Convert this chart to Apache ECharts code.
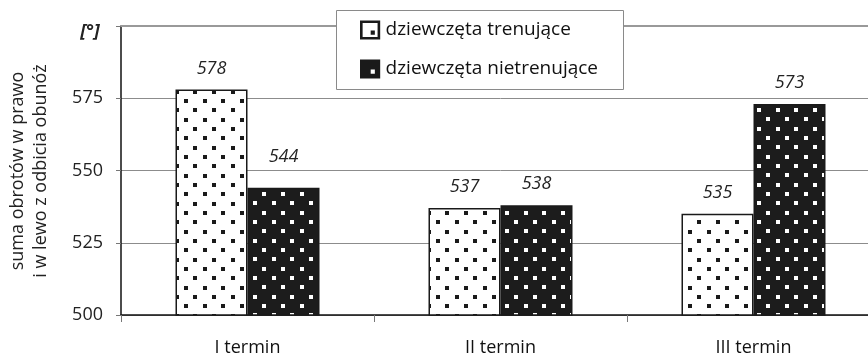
<!DOCTYPE html>
<html>
<head>
<meta charset="utf-8">
<style>
  html, body { margin: 0; padding: 0; background: #fff; overflow: hidden; }
  /* the plot area continues a little past the right edge of the window */
  #chart { width: 880px; height: 358px; }
</style>
<script src="https://cdn.jsdelivr.net/npm/echarts@6/dist/echarts.min.js"></script>
</head>
<body>
<div id="chart"></div>
<script>
// Data
const categories = ['I termin', 'II termin', 'III termin'];
const seriesNames = ['dziewczęta trenujące', 'dziewczęta nietrenujące'];
const trained = [578, 537, 535];
const untrained = [544, 538, 573];
const yTicks = { min: 500, max: 600, step: 25 };

const FONT = '"Open Sans", "Noto Sans", sans-serif';

// Staggered dot pattern tile (3 periods of ~18.67 px)
function dotPattern(bg, dot, x0, y0) {
  const size = 56, period = size / 3, half = period / 2, d = 4;
  const c = document.createElement('canvas');
  c.width = size; c.height = size;
  const g = c.getContext('2d');
  g.fillStyle = bg; g.fillRect(0, 0, size, size);
  g.fillStyle = dot;
  for (let j = -2; j < 8; j++) {
    const y = y0 + j * half;
    const shift = (j % 2 === 0) ? 0 : half;
    for (let i = -2; i < 5; i++) {
      const x = x0 + shift + i * period;
      g.fillRect(Math.round(x - d / 2), Math.round(y - d / 2), d, d);
    }
  }
  return c;
}

const lightFill = { image: dotPattern('#ffffff', '#1a1a1a', 18, 7.7), repeat: 'repeat' };
const darkFill = { image: dotPattern('#1c1c1c', '#ffffff', 3, 7.3), repeat: 'repeat' };

// Legend icons: framed square with dot / solid square with hole
const iconLight = 'path://M0,0L17,0L17,16L0,16Z M2.2,2.2L2.2,13.8L14.8,13.8L14.8,2.2Z M9,8.5L12.5,8.5L12.5,12L9,12Z';
const iconDark = 'path://M0,0L17,0L17,16L0,16Z M9,8.5L9,12L12.5,12L12.5,8.5Z';

const chart = echarts.init(document.getElementById('chart'), null, { renderer: 'canvas' });

const labelStyle = {
  show: true,
  position: 'top',
  distance: 12,
  fontFamily: FONT,
  fontSize: 18,
  fontStyle: 'italic',
  color: '#222'
};

chart.setOption({
  animation: false,
  backgroundColor: '#ffffff',
  textStyle: { fontFamily: FONT },
  grid: { left: 121, right: 0, top: 26, height: 289, containLabel: false },
  legend: {
    orient: 'vertical',
    left: 360,
    top: 20,
    padding: 0,
    itemGap: 19,
    itemWidth: 21,
    itemHeight: 19,
    z: 20,
    textStyle: { fontFamily: FONT, fontSize: 19, color: '#111', lineHeight: 20, padding: [0, 0, 0, 0] },
    data: [
      { name: seriesNames[0], icon: iconLight, itemStyle: { color: '#1a1a1a', borderWidth: 0 } },
      { name: seriesNames[1], icon: iconDark, itemStyle: { color: '#1a1a1a', borderWidth: 0 } }
    ]
  },
  graphic: [
    {
      type: 'rect',
      z: 10,
      shape: { x: 336.5, y: 10.5, width: 287, height: 79 },
      style: { fill: '#ffffff', stroke: '#8a8a8a', lineWidth: 1 }
    },
    {
      type: 'text',
      x: 29,
      y: 171,
      rotation: Math.PI / 2,
      style: {
        text: 'suma obrotów w prawo\ni w lewo z odbicia obunóż',
        fontFamily: FONT,
        fontSize: 18,
        lineHeight: 23,
        fill: '#222',
        align: 'center',
        verticalAlign: 'middle'
      }
    },
    {
      type: 'text',
      x: 90,
      y: 32,
      style: {
        text: '[°]',
        fontFamily: FONT,
        fontSize: 18,
        fontStyle: 'italic',
        fontWeight: 'bold',
        fill: '#222',
        align: 'center',
        verticalAlign: 'middle'
      }
    }
  ],
  xAxis: {
    type: 'category',
    data: categories,
    axisLine: { lineStyle: { color: '#111', width: 1.5 } },
    axisTick: { show: true, length: 7, lineStyle: { color: '#777', width: 1 } },
    axisLabel: { fontFamily: FONT, fontSize: 18, color: '#111', margin: 24 },
    splitLine: { show: false }
  },
  yAxis: {
    type: 'value',
    min: yTicks.min,
    max: yTicks.max,
    interval: yTicks.step,
    axisLine: { show: true, lineStyle: { color: '#111', width: 1.5 } },
    axisTick: { show: true, length: 5, lineStyle: { color: '#777', width: 1 } },
    axisLabel: {
      fontFamily: FONT, fontSize: 18, color: '#222', margin: 18,
      formatter: v => (v === yTicks.max ? '' : String(v))
    },
    splitLine: { show: true, lineStyle: { color: '#8c8c8c', width: 1 } }
  },
  series: [
    {
      name: seriesNames[0],
      type: 'bar',
      data: trained,
      barWidth: 72,
      barGap: '0%',
      itemStyle: { color: lightFill, borderColor: '#1a1a1a', borderWidth: 1.5 },
      label: labelStyle,
      markLine: {
        silent: true,
        symbol: 'none',
        label: { show: false },
        lineStyle: { color: '#999', width: 2, type: 'solid' },
        data: [{ yAxis: yTicks.max }]
      }
    },
    {
      name: seriesNames[1],
      type: 'bar',
      data: untrained.map((v, i) => i === 0
        ? { value: v, label: { offset: [0, -10] } }
        : v),
      barWidth: 72,
      itemStyle: { color: darkFill, borderColor: '#1a1a1a', borderWidth: 1.5 },
      label: labelStyle
    }
  ]
});
</script>
</body>
</html>
